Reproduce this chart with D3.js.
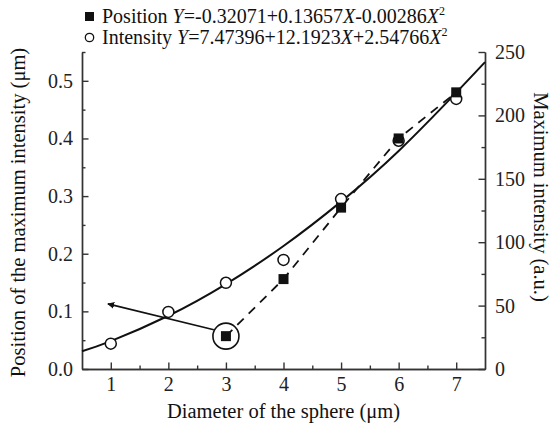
<!DOCTYPE html>
<html>
<head>
<meta charset="utf-8">
<script src="https://cdn.jsdelivr.net/npm/d3@7"></script>
<style>
  body { margin: 0; background: #fff; }
  svg { font-family: "Liberation Serif", "DejaVu Serif", serif; }
  .axis path, .axis line { stroke: #333; stroke-width: 1.4; }
  .axis text { fill: #222; }
</style>
</head>
<body>
<div id="graf"></div>
<script>
// Datos
const diametros = [1, 2, 3, 4, 5, 6, 7]
const posDiam = [3, 4, 5, 6, 7]
const posicion = [0.057, 0.156, 0.28, 0.40, 0.48]
const intensidad = [20, 45, 68, 86, 134, 180, 213]
// curva de ajuste de la intensidad
const ajusteX = [0.5, 1, 2, 3, 4, 5, 6, 7, 7.5]
const ajusteY = [14, 22, 42, 67, 97, 132, 172, 218, 242]
// flecha de anotacion (inicio, fin) en unidades de datos
const flecha = [{ x: 2.79, y: 0.068 }, { x: 0.95, y: 0.113 }]

const leyenda = [
  { nombre: "Position", eq: ["Y", "=-0.32071+0.13657", "X", "-0.00286", "X"] },
  { nombre: "Intensity", eq: ["Y", "=7.47396+12.1923", "X", "+2.54766", "X"] },
]

// Dimensiones
const anchoTotal = 552
const altoTotal = 425
const margins = { top: 52, right: 67, bottom: 56, left: 82 }
const ancho = anchoTotal - margins.left - margins.right
const alto = altoTotal - margins.top - margins.bottom

const svg = d3.select("#graf")
  .append("svg")
  .attr("width", anchoTotal)
  .attr("height", altoTotal)

const g = svg.append("g")
  .attr("transform", `translate(${margins.left}, ${margins.top})`)

// Escaladores
const x = d3.scaleLinear().domain([0.5, 7.5]).range([0, ancho])
const yPos = d3.scaleLinear().domain([0, 0.55]).range([alto, 0])
const yInt = d3.scaleLinear().domain([0, 250]).range([alto, 0])

const fuente = (sel) => sel.selectAll("text")
  .style("font-family", "'Liberation Serif', 'DejaVu Serif', serif")
  .style("font-size", "20px")

// Ejes menores
g.append("g").attr("class", "axis")
  .attr("transform", `translate(0, ${alto})`)
  .call(d3.axisBottom(x).tickValues(d3.range(1.5, 7.5, 1)).tickSize(-3.5).tickSizeOuter(0).tickFormat(""))
g.append("g").attr("class", "axis")
  .call(d3.axisLeft(yPos).tickValues(d3.range(0.05, 0.56, 0.1)).tickSize(-3.5).tickSizeOuter(0).tickFormat(""))
g.append("g").attr("class", "axis")
  .attr("transform", `translate(${ancho}, 0)`)
  .call(d3.axisRight(yInt).tickValues([25, 75, 125, 175, 225]).tickSize(-3.5).tickSizeOuter(0).tickFormat(""))

// Ejes mayores
g.append("g").attr("class", "axis")
  .attr("transform", `translate(0, ${alto})`)
  .call(d3.axisBottom(x).tickValues(diametros).tickSize(-6.5).tickSizeOuter(0).tickPadding(8).tickFormat(d3.format("d")))
  .call(fuente)
g.append("g").attr("class", "axis")
  .call(d3.axisLeft(yPos).tickValues([0, 0.1, 0.2, 0.3, 0.4, 0.5]).tickSize(-6.5).tickSizeOuter(0).tickPadding(9).tickFormat(d3.format(".1f")))
  .call(fuente)
g.append("g").attr("class", "axis")
  .attr("transform", `translate(${ancho}, 0)`)
  .call(d3.axisRight(yInt).tickValues([0, 50, 100, 150, 200, 250]).tickSize(-6.5).tickSizeOuter(0).tickPadding(10))
  .call(fuente)

// Curva de ajuste
g.append("path")
  .datum(ajusteX.map((d, i) => [d, ajusteY[i]]))
  .attr("fill", "none")
  .attr("stroke", "#111")
  .attr("stroke-width", 2)
  .attr("d", d3.line().x((d) => x(d[0])).y((d) => yInt(d[1])).curve(d3.curveNatural))

// Linea discontinua de posicion
const posPts = posDiam.map((d, i) => [d, posicion[i]])
g.append("path")
  .datum(posPts)
  .attr("fill", "none")
  .attr("stroke", "#111")
  .attr("stroke-width", 1.8)
  .attr("stroke-dasharray", "9,7")
  .attr("stroke-dashoffset", -16)
  .attr("d", d3.line().x((d) => x(d[0])).y((d) => yPos(d[1])))

// Flecha
svg.append("defs").append("marker")
  .attr("id", "punta")
  .attr("viewBox", "0 0 10 10")
  .attr("refX", 9).attr("refY", 5)
  .attr("markerWidth", 7).attr("markerHeight", 7)
  .attr("markerUnits", "userSpaceOnUse")
  .attr("orient", "auto")
  .append("path").attr("d", "M0,0 L10,5 L0,10 Z").attr("fill", "#111")

g.append("line")
  .attr("x1", x(flecha[0].x)).attr("y1", yPos(flecha[0].y))
  .attr("x2", x(flecha[1].x)).attr("y2", yPos(flecha[1].y))
  .attr("stroke", "#111").attr("stroke-width", 1.6)
  .attr("marker-end", "url(#punta)")

// Circulo grande alrededor del punto x=3
g.append("circle")
  .attr("cx", x(posDiam[0])).attr("cy", yPos(posicion[0]))
  .attr("r", 13)
  .attr("fill", "none").attr("stroke", "#111").attr("stroke-width", 1.6)

// Marcadores de intensidad
g.selectAll(".int").data(diametros).enter().append("circle")
  .attr("class", "int")
  .attr("cx", (d) => x(d))
  .attr("cy", (d, i) => yInt(intensidad[i]))
  .attr("r", 5.5)
  .attr("fill", "#fff").attr("stroke", "#111").attr("stroke-width", 1.5)

// Marcadores de posicion
g.selectAll(".pos").data(posPts).enter().append("rect")
  .attr("class", "pos")
  .attr("x", (d) => x(d[0]) - 5)
  .attr("y", (d) => yPos(d[1]) - 5)
  .attr("width", 10).attr("height", 10)
  .attr("fill", "#111")

// Leyenda
leyenda.forEach((l, i) => {
  const yy = 23 + i * 21
  if (i === 0) {
    svg.append("rect").attr("x", 85).attr("y", yy - 11).attr("width", 9).attr("height", 9).attr("fill", "#111")
  } else {
    svg.append("circle").attr("cx", 89.5).attr("cy", yy - 6.5).attr("r", 4.2)
      .attr("fill", "#fff").attr("stroke", "#111").attr("stroke-width", 1.3)
  }
  const t = svg.append("text").attr("x", 102).attr("y", yy).attr("font-size", 20).attr("fill", "#111")
  t.append("tspan").text(l.nombre + " ")
  l.eq.forEach((s) => {
    t.append("tspan").text(s).attr("font-style", s === "X" || s === "Y" ? "italic" : "normal")
  })
  t.append("tspan").text("2").attr("font-size", 12).attr("dy", -8)
})

// Titulos de ejes
svg.append("text")
  .attr("transform", `translate(25, ${margins.top + alto / 2 + 2}) rotate(-90)`)
  .attr("text-anchor", "middle").attr("font-size", 20.5).attr("fill", "#111")
  .text("Position of the maximum intensity (μm)")
svg.append("text")
  .attr("transform", `translate(534, 197) rotate(90)`)
  .attr("text-anchor", "middle").attr("font-size", 20.5).attr("fill", "#111")
  .text("Maximum intensity (a.u.)")
svg.append("text")
  .attr("x", margins.left + ancho / 2).attr("y", 418)
  .attr("text-anchor", "middle").attr("font-size", 20.5).attr("fill", "#111")
  .text("Diameter of the sphere (μm)")
</script>
</body>
</html>
